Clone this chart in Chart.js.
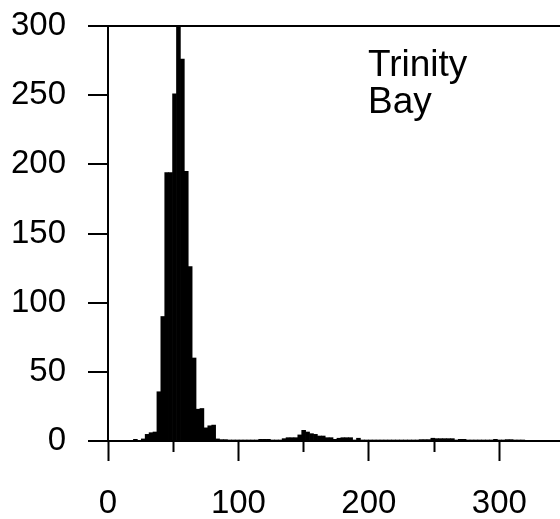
<!DOCTYPE html>
<html>
<head>
<meta charset="utf-8">
<script src="https://cdn.jsdelivr.net/npm/chart.js@4.4.1/dist/chart.umd.min.js"></script>
<style>
    html, body { margin: 0; padding: 0; background: #fff; }
</style>
</head>
<body>
<canvas id="hist" width="560" height="519"></canvas>
<script>
"use strict";

// histogram bins (width 3)
const binCentres = [
    21, 27, 30, 33, 36, 39, 42, 45, 48, 51, 54, 57, 60, 63, 66, 69, 72, 75, 78, 81,
    84, 87, 90, 93, 96, 99, 102, 105, 108, 111, 114, 117, 120, 123, 126, 129, 132,
    135, 138, 141, 144, 147, 150, 153, 156, 159, 162, 165, 168, 171, 174, 177, 180,
    183, 186, 189, 192, 195, 198, 201, 204, 207, 210, 213, 216, 219, 222, 225, 228,
    231, 234, 237, 240, 243, 246, 249, 252, 255, 258, 261, 264, 267, 270, 273, 276,
    279, 282, 285, 288, 291, 294, 297, 300, 303, 306, 309, 312, 315, 318
];
const binCounts = [
    1.2, 1.5, 4.8, 6, 6.5, 35.6, 90, 194, 194, 251, 305, 276, 195, 126, 60, 23, 23.5, 9.5, 11, 11.5,
    1.5, 1, 1, 0.7, 0.5, 0.3, 0.3, 0.7, 0.7, 0.7, 0.7, 1.2, 1.2, 1.2, 0.7, 0.7, 0.7,
    1.7, 2.4, 2.4, 2.4, 4.4, 7.7, 6.5, 5.3, 4.8, 3.6, 3.6, 2.4, 2.4, 1.2, 2, 2.4,
    2.4, 2.4, 0.7, 2, 0.5, 0.3, 0.3, 0.7, 0.3, 0.3, 0.7, 0.3, 0.3, 0.7, 0.3, 0.7,
    0.7, 0.3, 0.3, 1, 1, 1, 2, 1.7, 1.7, 1.7, 1.7, 1.7, 0.3, 1.2, 1.2, 0.3,
    0.3, 0.3, 0.3, 0.3, 0.5, 0.5, 1.2, 0.7, 0.7, 1, 1, 0.3, 0.7, 0.7
];
const xRange = [0, 346.5];
const yRange = [0, 300];
const siteLabel = ["Trinity", "Bay"];

const fontFamily = '"Liberation Sans", Arial, Helvetica, sans-serif';

const siteLabelPlugin = {
    id: "siteLabel",
    afterDraw(chart) {
        let ctx = chart.ctx;
        ctx.save();
        ctx.font = "37px " + fontFamily;
        ctx.fillStyle = "#000";
        ctx.textBaseline = "alphabetic";
        siteLabel.forEach(function(line, i) {
            ctx.fillText(line, 368, 76 + i * 37);
        });
        ctx.restore();
    }
};

new Chart(document.getElementById("hist"), {
    type: "bar",
    data: {
        datasets: [ {
            data: binCentres.map(function(x, i) {
                return { x: x, y: binCounts[i] };
            }),
            backgroundColor: "#000",
            borderWidth: 0,
            barPercentage: 1,
            categoryPercentage: 1,
            clip: 0
        } ]
    },
    options: {
        responsive: false,
        devicePixelRatio: 1,
        animation: false,
        layout: {
            padding: { top: 26, right: 0, bottom: 0, left: 0 }
        },
        plugins: {
            legend: { display: false },
            tooltip: { enabled: false }
        },
        scales: {
            x: {
                type: "linear",
                min: xRange[0],
                max: xRange[1],
                offset: false,
                afterFit: function(scale) {
                    scale.height = 78;
                    scale.paddingLeft = 0;
                    scale.paddingRight = 0;
                },
                border: { display: true, color: "#000", width: 2 },
                grid: {
                    offset: false,
                    drawOnChartArea: false,
                    tickLength: 20,
                    tickWidth: 2,
                    tickColor: "#000",
                    // short ticks at the odd fifties
                    tickBorderDash: function(c) {
                        return c.tick && c.tick.value % 100 !== 0 ? [ 10, 40 ] : [];
                    }
                },
                ticks: {
                    stepSize: 50,
                    includeBounds: false,
                    autoSkip: false,
                    maxRotation: 0,
                    padding: 23,
                    color: "#000",
                    font: { family: fontFamily, size: 33 },
                    callback: function(v) { return v % 100 === 0 ? v : ""; }
                }
            },
            y: {
                min: yRange[0],
                max: yRange[1],
                afterFit: function(scale) {
                    scale.width = 108;
                    scale.paddingTop = 0;
                    scale.paddingBottom = 0;
                },
                border: { display: true, color: "#000", width: 2 },
                grid: {
                    drawOnChartArea: true,
                    // only the top line of the frame is drawn across
                    color: function(c) {
                        return c.tick && c.tick.value === yRange[1] ? "#000" : "rgba(0,0,0,0)";
                    },
                    lineWidth: 2,
                    tickLength: 20,
                    tickWidth: 2,
                    tickColor: "#000"
                },
                ticks: {
                    stepSize: 50,
                    padding: 22,
                    color: "#000",
                    font: { family: fontFamily, size: 33 }
                }
            }
        }
    },
    plugins: [ siteLabelPlugin ]
});
</script>
</body>
</html>
